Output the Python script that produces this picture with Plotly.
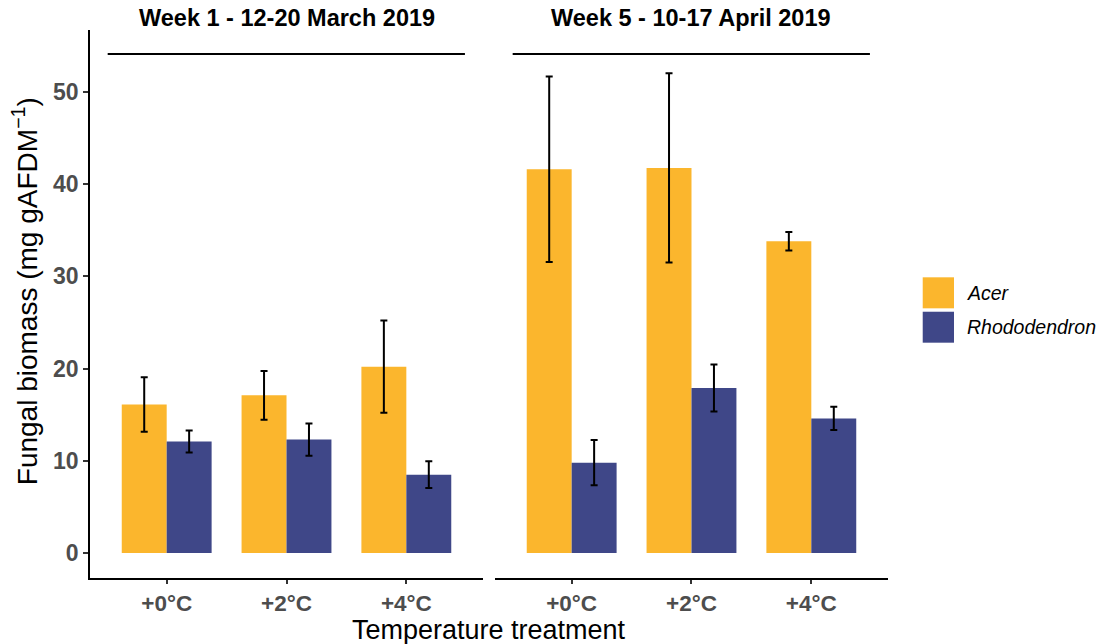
import plotly.graph_objects as go
from plotly.subplots import make_subplots

weeks = ["Week 1 - 12-20 March 2019", "Week 5 - 10-17 April 2019"]
temps = ["+0°C", "+2°C", "+4°C"]
species = ["Acer", "Rhododendron"]
colors = ["#FBB62D", "#3F4788"]

acer_w1 = [16.1, 17.1, 20.2]
acer_w1_err = [2.95, 2.65, 5.0]
rhodo_w1 = [12.1, 12.3, 8.5]
rhodo_w1_err = [1.2, 1.75, 1.45]
acer_w5 = [41.6, 41.75, 33.8]
acer_w5_err = [10.05, 10.25, 1.0]
rhodo_w5 = [9.8, 17.9, 14.6]
rhodo_w5_err = [2.45, 2.55, 1.25]

yticks = [0, 10, 20, 30, 40, 50]

FONT = "Liberation Sans, Arial, sans-serif"

fig = make_subplots(rows=1, cols=2, shared_yaxes=False)

panels = [
    [(acer_w1, acer_w1_err), (rhodo_w1, rhodo_w1_err)],
    [(acer_w5, acer_w5_err), (rhodo_w5, rhodo_w5_err)],
]
for c, panel in enumerate(panels, start=1):
    for s, (vals, errs) in enumerate(panel):
        fig.add_trace(
            go.Bar(
                x=temps, y=vals, name=species[s], showlegend=False,
                marker=dict(color=colors[s], line=dict(width=0)),
                error_y=dict(type="data", array=errs, visible=True,
                             color="black", thickness=2, width=3.5),
            ),
            row=1, col=c,
        )

fig.update_layout(
    barmode="group", bargap=0.25, bargroupgap=0,
    width=1103, height=644,
    margin=dict(l=90, r=215, t=30, b=66),
    plot_bgcolor="white", paper_bgcolor="white",
    font=dict(family=FONT, color="black"),
)

xcommon = dict(
    type="category", range=[-0.64, 2.64], showline=True, linecolor="black", linewidth=1.6,
    ticks="outside", ticklen=4, tickwidth=1.5, tickcolor="#333333",
    tickfont=dict(size=22.5, color="#4D4D4D", family=FONT, weight="bold"),
    showgrid=False, zeroline=False,
)
fig.update_xaxes(domain=[0, 0.4925], row=1, col=1, **xcommon)
fig.update_xaxes(domain=[0.5075, 1], row=1, col=2, **xcommon)

fig.update_yaxes(
    range=[-2.7, 56.7], tickvals=yticks, showline=True, linecolor="black", linewidth=1.6,
    ticks="outside", ticklen=5, tickwidth=1.5, tickcolor="#333333",
    tickfont=dict(size=23, color="#4D4D4D", family=FONT, weight="bold"),
    showgrid=False, zeroline=False, row=1, col=1,
)
fig.update_yaxes(
    range=[-2.7, 56.7], showline=False, showticklabels=False, ticks="",
    showgrid=False, zeroline=False, row=1, col=2,
)

# facet strip titles and lines
for i, (w, xr) in enumerate(zip(weeks, ["x domain", "x2 domain"])):
    fig.add_annotation(
        text=f"<b>{w}</b>", xref=xr, yref="paper", x=0.5, y=1.0219,
        xanchor="center", yanchor="middle", showarrow=False,
        font=dict(size=23.5, color="black", family=FONT),
    )
    fig.add_shape(type="line", xref=xr, yref="paper", x0=0.045, x1=0.954,
                  y0=0.956, y1=0.956, line=dict(color="black", width=2))

# axis titles
fig.add_annotation(
    text="Temperature treatment", xref="paper", yref="paper", x=0.5, y=-0.0945,
    xanchor="center", yanchor="middle", showarrow=False,
    font=dict(size=27, color="black", family=FONT),
)
fig.add_annotation(
    text="Fungal biomass (mg gAFDM<sup>−1</sup>)", xref="paper", yref="paper",
    x=-0.081, y=0.524, xanchor="center", yanchor="middle", textangle=-90,
    showarrow=False, font=dict(size=28, color="black", family=FONT),
)

# legend
sw = [(0.4921, 0.5487), (0.4294, 0.4859)]
for s in range(2):
    fig.add_shape(type="rect", xref="paper", yref="paper", x0=1.0435, x1=1.0827,
                  y0=sw[s][0], y1=sw[s][1], fillcolor=colors[s], line=dict(width=0))
    fig.add_annotation(
        text=f"<i>{species[s]}</i>", xref="paper", yref="paper", x=1.097,
        y=(sw[s][0] + sw[s][1]) / 2, xanchor="left", yanchor="middle", showarrow=False,
        font=dict(size=19.5, color="black", family=FONT),
    )

fig.write_html("out.html")
